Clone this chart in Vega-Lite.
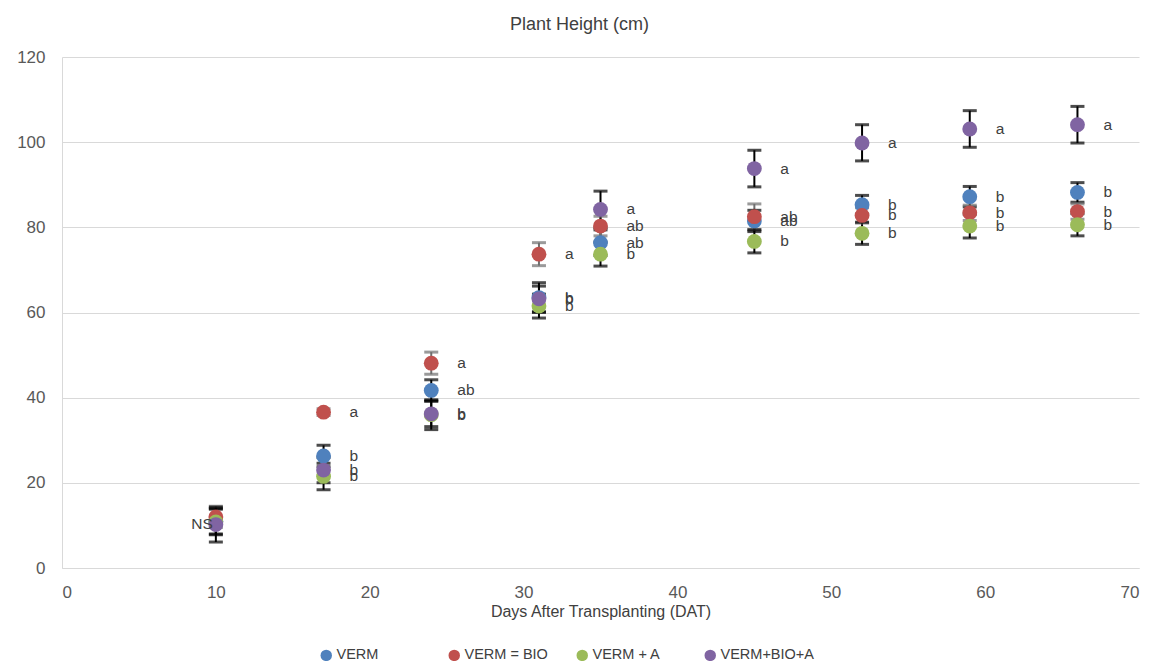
{
  "$schema": "https://vega.github.io/schema/vega-lite/v6.json",
  "width": 1077,
  "height": 511,
  "autosize": {"type": "none"},
  "padding": {"left": 62, "top": 57, "right": 20, "bottom": 93},
  "background": "white",
  "title": {"text": "Plant Height (cm)", "fontSize": 18, "fontWeight": "normal", "color": "#404040", "font": "Liberation Sans", "offset": 14, "dx": -21},
  "config": {
    "view": {"stroke": null},
    "font": "Liberation Sans",
    "axis": {"labelColor": "#595959", "labelFontSize": 17, "ticks": false, "domainColor": "#d9d9d9", "gridColor": "#d9d9d9", "titleColor": "#404040", "titleFontWeight": "normal"}
  },
  "data": {"values": [
    {"day": 10, "series": "VERM", "h": 11, "lo": 8, "hi": 14, "label": ""},
    {"day": 10, "series": "VERM = BIO", "h": 12, "lo": 9.5, "hi": 14.5, "label": ""},
    {"day": 10, "series": "VERM + A", "h": 10.8, "lo": 7.8, "hi": 13.8, "label": ""},
    {"day": 10, "series": "VERM+BIO+A", "h": 10.2, "lo": 6.1, "hi": 14.3, "label": "NS"},
    {"day": 17, "series": "VERM", "h": 26.3, "lo": 23.8, "hi": 28.8, "label": "b"},
    {"day": 17, "series": "VERM = BIO", "h": 36.6, "lo": 35.8, "hi": 37.4, "label": "a"},
    {"day": 17, "series": "VERM + A", "h": 21.5, "lo": 18.4, "hi": 24.6, "label": "b"},
    {"day": 17, "series": "VERM+BIO+A", "h": 23, "lo": 20, "hi": 26, "label": "b"},
    {"day": 24, "series": "VERM", "h": 41.7, "lo": 39.2, "hi": 44.2, "label": "ab"},
    {"day": 24, "series": "VERM = BIO", "h": 48.1, "lo": 45.5, "hi": 50.7, "label": "a"},
    {"day": 24, "series": "VERM + A", "h": 36, "lo": 32.5, "hi": 39.5, "label": "b"},
    {"day": 24, "series": "VERM+BIO+A", "h": 36.2, "lo": 33.2, "hi": 39.2, "label": "b"},
    {"day": 31, "series": "VERM", "h": 63.5, "lo": 60, "hi": 67, "label": "b"},
    {"day": 31, "series": "VERM = BIO", "h": 73.7, "lo": 71, "hi": 76.4, "label": "a"},
    {"day": 31, "series": "VERM + A", "h": 61.5, "lo": 58.7, "hi": 64.3, "label": "b"},
    {"day": 31, "series": "VERM+BIO+A", "h": 63.2, "lo": 60.2, "hi": 66.2, "label": "b"},
    {"day": 35, "series": "VERM", "h": 76.4, "lo": 73.4, "hi": 79.4, "label": "ab"},
    {"day": 35, "series": "VERM = BIO", "h": 80.3, "lo": 78, "hi": 82.6, "label": "ab"},
    {"day": 35, "series": "VERM + A", "h": 73.7, "lo": 70.9, "hi": 76.5, "label": "b"},
    {"day": 35, "series": "VERM+BIO+A", "h": 84.2, "lo": 79.9, "hi": 88.5, "label": "a"},
    {"day": 45, "series": "VERM", "h": 81.5, "lo": 79, "hi": 84, "label": "ab"},
    {"day": 45, "series": "VERM = BIO", "h": 82.5, "lo": 79.5, "hi": 85.5, "label": "ab"},
    {"day": 45, "series": "VERM + A", "h": 76.7, "lo": 74, "hi": 79.4, "label": "b"},
    {"day": 45, "series": "VERM+BIO+A", "h": 93.8, "lo": 89.5, "hi": 98.1, "label": "a"},
    {"day": 52, "series": "VERM", "h": 85.3, "lo": 83.1, "hi": 87.5, "label": "b"},
    {"day": 52, "series": "VERM = BIO", "h": 82.8, "lo": 81, "hi": 84.6, "label": "b"},
    {"day": 52, "series": "VERM + A", "h": 78.6, "lo": 76, "hi": 81.2, "label": "b"},
    {"day": 52, "series": "VERM+BIO+A", "h": 99.8, "lo": 95.6, "hi": 104.1, "label": "a"},
    {"day": 59, "series": "VERM", "h": 87.2, "lo": 84.8, "hi": 89.6, "label": "b"},
    {"day": 59, "series": "VERM = BIO", "h": 83.4, "lo": 81.6, "hi": 85.2, "label": "b"},
    {"day": 59, "series": "VERM + A", "h": 80.3, "lo": 77.5, "hi": 83.1, "label": "b"},
    {"day": 59, "series": "VERM+BIO+A", "h": 103.1, "lo": 98.8, "hi": 107.4, "label": "a"},
    {"day": 66, "series": "VERM", "h": 88.2, "lo": 85.9, "hi": 90.5, "label": "b"},
    {"day": 66, "series": "VERM = BIO", "h": 83.7, "lo": 81.9, "hi": 85.5, "label": "b"},
    {"day": 66, "series": "VERM + A", "h": 80.6, "lo": 78, "hi": 83.2, "label": "b"},
    {"day": 66, "series": "VERM+BIO+A", "h": 104.1, "lo": 99.8, "hi": 108.4, "label": "a"}
  ]},
  "encoding": {
    "x": {"field": "day", "type": "quantitative", "scale": {"domain": [0, 70], "nice": false}, "axis": {"values": [0, 10, 20, 30, 40, 50, 60, 70], "grid": false, "title": "Days After Transplanting (DAT)", "titleFontSize": 16, "titlePadding": 3, "labelPadding": 16}}
  },
  "layer": [
    {
      "mark": {"type": "rule", "strokeWidth": 2},
      "encoding": {
        "y": {"field": "lo", "type": "quantitative", "scale": {"domain": [0, 120], "nice": false}, "axis": {"values": [0, 20, 40, 60, 80, 100, 120], "grid": true, "title": null, "labelPadding": 17}},
        "y2": {"field": "hi"},
        "color": {"field": "series", "type": "nominal", "scale": {"domain": ["VERM", "VERM = BIO", "VERM + A", "VERM+BIO+A"], "range": ["#000000", "#6f6f6f", "#000000", "#000000"]}, "legend": null}
      }
    },
    {
      "mark": {"type": "tick", "orient": "horizontal", "size": 14, "thickness": 3},
      "encoding": {
        "y": {"field": "lo", "type": "quantitative"},
        "color": {"field": "series", "type": "nominal", "scale": {"domain": ["VERM", "VERM = BIO", "VERM + A", "VERM+BIO+A"], "range": ["#000000", "#6f6f6f", "#000000", "#000000"]}, "legend": null}
      }
    },
    {
      "mark": {"type": "tick", "orient": "horizontal", "size": 14, "thickness": 3},
      "encoding": {
        "y": {"field": "hi", "type": "quantitative"},
        "color": {"field": "series", "type": "nominal", "scale": {"domain": ["VERM", "VERM = BIO", "VERM + A", "VERM+BIO+A"], "range": ["#000000", "#6f6f6f", "#000000", "#000000"]}, "legend": null}
      }
    },
    {
      "mark": {"type": "point", "shape": "circle", "filled": true, "opacity": 1, "size": 220},
      "encoding": {
        "y": {"field": "h", "type": "quantitative"},
        "color": {"field": "series", "type": "nominal", "scale": {"domain": ["VERM", "VERM = BIO", "VERM + A", "VERM+BIO+A"], "range": ["#4f81bd", "#c0504d", "#9bbb59", "#8064a2"]},
          "legend": {"title": null, "orient": "none", "direction": "horizontal", "columns": 4, "gridAlign": "all", "legendX": 257, "legendY": 591, "symbolType": "circle", "symbolSize": 130, "labelFontSize": 14.5, "labelColor": "#404040", "columnPadding": 17, "symbolOffset": 0, "labelOffset": 3}}
      }
    },
    {
      "transform": [{"filter": "datum.label != 'NS'"}],
      "mark": {"type": "text", "align": "left", "baseline": "middle", "dx": 26, "fontSize": 15.5, "color": "#404040"},
      "encoding": {
        "y": {"field": "h", "type": "quantitative"},
        "text": {"field": "label"}
      }
    },
    {
      "transform": [{"filter": "datum.label == 'NS'"}],
      "mark": {"type": "text", "align": "right", "baseline": "middle", "dx": -3, "dy": -1, "fontSize": 15.5, "color": "#404040"},
      "encoding": {
        "y": {"field": "h", "type": "quantitative"},
        "text": {"field": "label"}
      }
    }
  ],
  "resolve": {"scale": {"color": "independent"}}
}
